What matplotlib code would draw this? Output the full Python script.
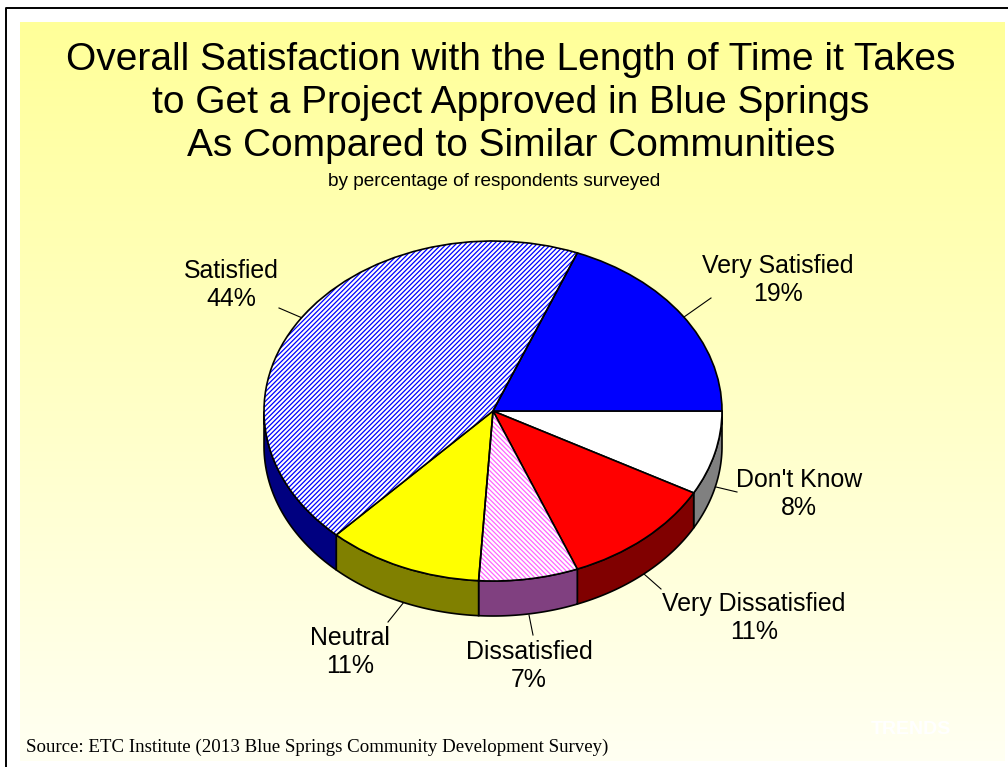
import numpy as np
import matplotlib
matplotlib.use("Agg")
import matplotlib.pyplot as plt
from matplotlib.patches import Polygon, Wedge

categories = ["Don't Know", "Very Dissatisfied", "Dissatisfied", "Neutral", "Satisfied", "Very Satisfied"]
values = [8, 11, 7, 11, 44, 19]
top_colors = ["#FFFFFF", "#FF0000", "#FFFFFF", "#FFFF00", "#FFFFFF", "#0000FF"]
side_colors = ["#808080", "#800000", "#804080", "#808000", "#000080", "#000080"]
hatch_colors = [None, None, "#FF66FF", None, "#0000FF", None]
hatches = [None, None, "\\\\\\\\\\\\\\", None, "///////", None]
title_lines = ["Overall Satisfaction with the Length of Time it Takes",
               "to Get a Project Approved in Blue Springs",
               "As Compared to Similar Communities"]
subtitle = "by percentage of respondents surveyed"
source = "Source: ETC Institute (2013 Blue Springs Community Development Survey)"

W, H = 1008, 767
plt.rcParams['font.family'] = ['Liberation Sans', 'DejaVu Sans']
plt.rcParams['hatch.linewidth'] = 0.9
fig = plt.figure(figsize=(W/100, H/100), dpi=100)

# page coordinates
bg = fig.add_axes([0, 0, 1, 1])
bg.axis('off')
grad = np.linspace(0, 1, 256).reshape(-1, 1)
top = np.array([1.0, 1.0, 0.6]); bot = np.array([1.0, 1.0, 0.95])
img = top + (bot - top) * grad[..., None]
bg.imshow(img, extent=[20, 1005, 761, 22], aspect='auto', zorder=1)
bg.set_xlim(0, W); bg.set_ylim(H, 0)
bg.plot([6, 6, W], [H, 7.5, 7.5], color='black', lw=1.4, zorder=2)

for i, line in enumerate(title_lines):
    bg.text(511, 60 + 43*i, line, fontsize=28, ha='center', va='center', zorder=3)
bg.text(494, 182, subtitle, fontsize=13.7, ha='center', va='center', zorder=3)
bg.text(26, 747, source, fontsize=13.6, family='Liberation Serif', ha='left', va='center', zorder=3)
bg.text(911, 729, "TRENDS", fontsize=14, color='white', fontweight='bold', ha='center', va='center', zorder=3)

# pie axes: ellipse centre (493,411), rx 229, ry 170
cx, cy, rx, ry, depth = 493, 411, 229, 170, 35
ax = fig.add_axes([(cx-rx)/W, 1-(cy+ry)/H, 2*rx/W, 2*ry/H])
ax.patch.set_alpha(0)
wedges, _ = ax.pie(values, startangle=0, counterclock=False, radius=1, colors=top_colors,
                   wedgeprops=dict(edgecolor='black', linewidth=1.2), normalize=True)
ax.set_aspect('auto')
ax.set_xlim(-1, 1); ax.set_ylim(-1, 1)
d = depth / ry

# side wall pieces
for w, col in zip(wedges, side_colors):
    th = np.radians(np.linspace(w.theta1, w.theta2, 120))
    s = np.sin(th); c = np.cos(th)
    mask = s <= 1e-9
    if mask.sum() < 2:
        continue
    xs, ys = c[mask], s[mask]
    pts = np.r_[np.c_[xs, ys], np.c_[xs[::-1], ys[::-1] - d]]
    ax.add_patch(Polygon(pts, closed=True, facecolor=col, edgecolor='black', linewidth=1.2,
                         zorder=0.5, clip_on=False))

for w, hc, h in zip(wedges, hatch_colors, hatches):
    w.set_zorder(2)
    w.set_clip_on(False)
    if h:
        w.set_edgecolor(hc)
        w.set_hatch(h)
        w.set_linewidth(0)
        ax.add_patch(Wedge(w.center, w.r, w.theta1, w.theta2, fill=False,
                           edgecolor='black', linewidth=1.2, zorder=3, clip_on=False))

# labels and leader lines, page coords
label_xy = [(799, 494), (754, 618), (529, 666), (350, 652), (231, 285), (778, 280)]
leader = [((716, 487), (737, 492)), ((644, 574), (661, 589)), ((529, 615), (533, 635)),
          ((404, 602), (388, 622)), ((307, 320), (279, 308)), ((684, 317), (711, 298))]
for cat, v, (x, y), l in zip(categories, values, label_xy, leader):
    bg.text(x, y, f"{cat}\n{v}%", fontsize=17.9, ha='center', va='center', linespacing=1.185, zorder=3)
    bg.plot([l[0][0], l[1][0]], [l[0][1], l[1][1]], color='black', lw=0.8, zorder=3)

fig.savefig("out.png", dpi=100)
